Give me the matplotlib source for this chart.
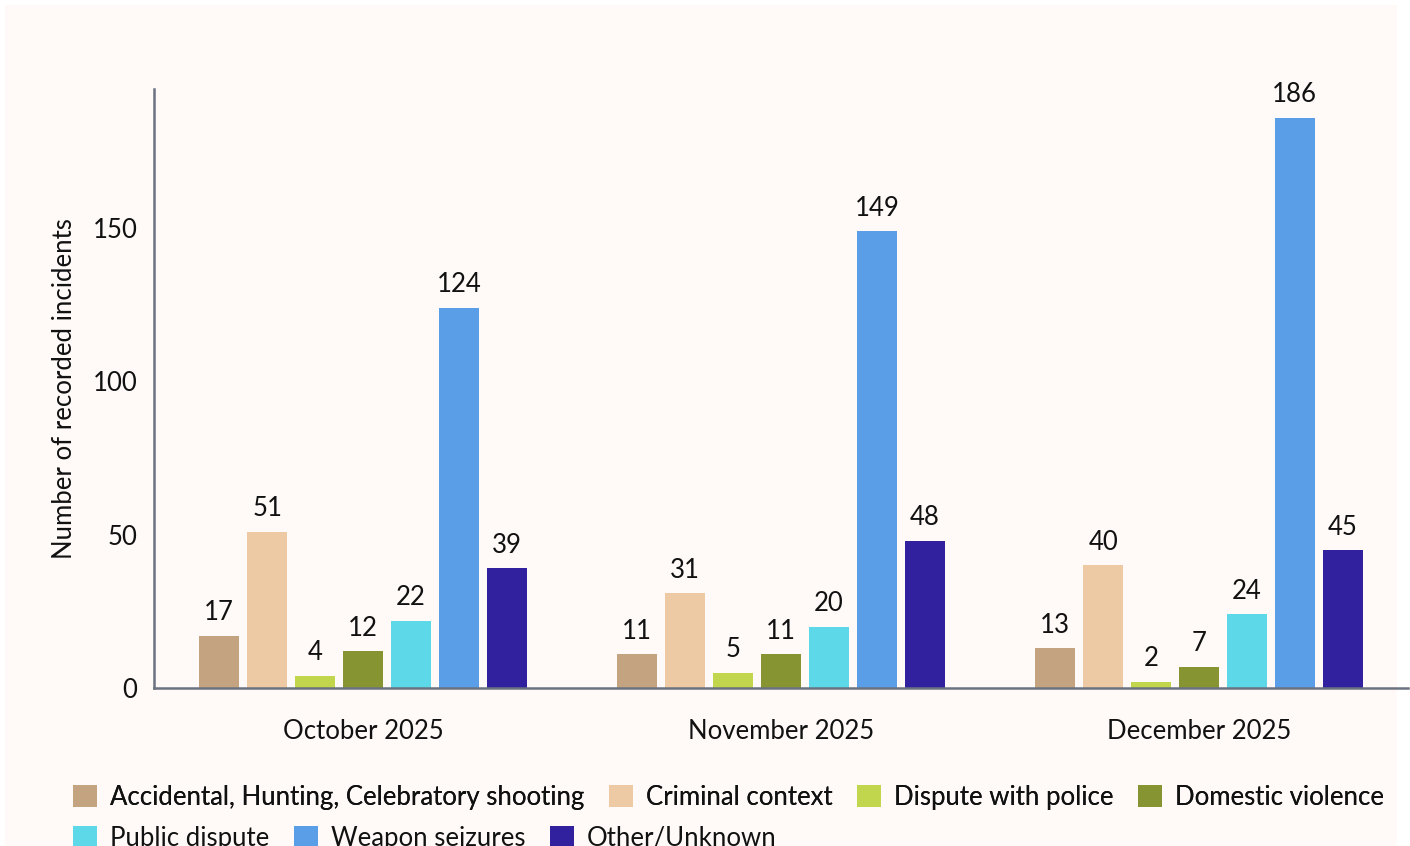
import matplotlib
matplotlib.use("Agg")
import matplotlib.pyplot as plt
from matplotlib.patches import Rectangle, Patch
import numpy as np

plt.rcParams['font.family'] = ['Lato', 'DejaVu Sans']

months = ["October 2025", "November 2025", "December 2025"]
categories = ["Accidental, Hunting, Celebratory shooting", "Criminal context",
              "Dispute with police", "Domestic violence", "Public dispute",
              "Weapon seizures", "Other/Unknown"]
accidental = [17, 11, 13]
criminal = [51, 31, 40]
police = [4, 5, 2]
domestic = [12, 11, 7]
public = [22, 20, 24]
seizures = [124, 149, 186]
other = [39, 48, 45]
series = [accidental, criminal, police, domestic, public, seizures, other]
colors = ["#c4a381", "#edcaa3", "#c2d64d", "#879432", "#5dd8e8", "#5b9ee8", "#32219f"]

W, H = 1410, 846
fig = plt.figure(figsize=(W / 100, H / 100), dpi=100, facecolor="white")
bg = Rectangle((5 / W, 0), (1397 - 5) / W, (H - 5) / H,
               transform=fig.transFigure, facecolor="#fffaf8",
               edgecolor="none", zorder=-10)
fig.patches.append(bg)

ax = fig.add_axes([154 / W, 1 - 688 / H, (1408 - 154) / W, (688 - 89) / H])
ax.set_facecolor("none")
ax.set_zorder(2)

FS = 18.5
x = np.arange(len(months))
step = 0.1146
width = 0.0955
for i, (vals, col) in enumerate(zip(series, colors)):
    pos = x + (i - 3) * step
    bars = ax.bar(pos, vals, width=width, color=col, zorder=2)
    for b, v in zip(bars, vals):
        ax.annotate(str(v), (b.get_x() + b.get_width() / 2, v),
                    xytext=(0, 7.5), textcoords="offset points",
                    ha="center", va="bottom", fontsize=FS, color="#111111")

ax.set_xlim(-0.5, 2.5)
ax.set_ylim(0, 195.3)
ax.set_yticks([0, 50, 100, 150])
ax.set_xticks(x)
ax.set_xticklabels(months)
ax.tick_params(axis="both", length=0, labelsize=FS, colors="#111111")
ax.tick_params(axis="x", pad=22.5)
ax.tick_params(axis="y", pad=12)
for s in ["top", "right"]:
    ax.spines[s].set_visible(False)
for s in ["left", "bottom"]:
    ax.spines[s].set_color("#6b7280")
    ax.spines[s].set_linewidth(1.8)
ax.set_ylabel("Number of recorded incidents", fontsize=FS, color="#111111", labelpad=11)

handles = [Patch(facecolor=c, edgecolor="none") for c in colors]
common = dict(frameon=False, fontsize=18.5, handlelength=0.94, handleheight=0.94,
              handletextpad=0.5, columnspacing=0.95, borderpad=0, borderaxespad=0,
              labelcolor="#111111")
leg1 = fig.legend(handles[:4], categories[:4], ncol=4, loc="center left",
                  bbox_to_anchor=(73 / W, 1 - 797 / H), **common)
fig.add_artist(leg1)
leg2 = fig.legend(handles[4:], categories[4:], ncol=3, loc="center left",
                  bbox_to_anchor=(73 / W, 1 - 838 / H), **common)

fig.savefig("out.png", dpi=100, facecolor=fig.get_facecolor())
